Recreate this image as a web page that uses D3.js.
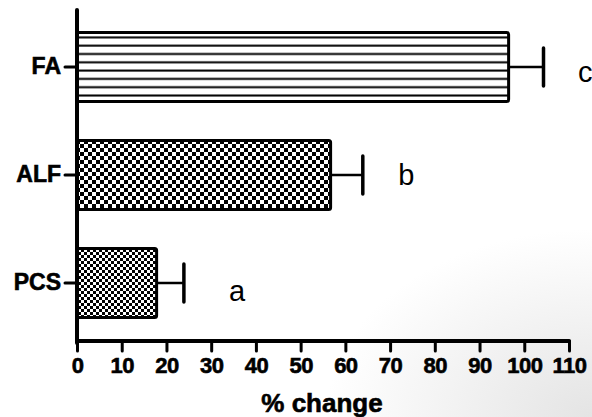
<!DOCTYPE html>
<html>
<head>
<meta charset="utf-8">
<script src="https://cdn.jsdelivr.net/npm/d3@7"></script>
<style>
    body { margin: 0; background: #fff; }
    text { font-family: "Liberation Sans", Arial, sans-serif; }
</style>
</head>
<body>
<svg id="chart"></svg>
<script>
"use strict";

const width = 592;
const height = 417;

// data
const groups = ["FA", "ALF", "PCS"];
const means = [96.5, 56.7, 17.8];
const errors = [7.8, 7.2, 6.1];
const letters = ["c", "b", "a"];
const letter_pos = [112, 71.8, 34];
const x_ticks = [0, 10, 20, 30, 40, 50, 60, 70, 80, 90, 100, 110];

const svg = d3.select("#chart")
    .attr("width", width)
    .attr("height", height);

const x_scale = d3.scaleLinear()
    .domain([0, 110])
    .range([77, 569]);

const y_scale = d3.scaleBand()
    .domain(groups)
    .range([13, 337])
    .paddingInner(1 / 3)
    .paddingOuter(1 / 6);

const defs = svg.append("defs");

// faint grey shading in the bottom right corner
const grad = defs.append("radialGradient")
    .attr("id", "bg")
    .attr("cx", "100%").attr("cy", "100%").attr("r", "45%");
grad.append("stop").attr("offset", "0%").attr("stop-color", "#e4e4e4");
grad.append("stop").attr("offset", "100%").attr("stop-color", "#ffffff");
svg.append("rect")
    .attr("width", width).attr("height", height)
    .attr("fill", "url(#bg)");

// fill patterns
const hlines = defs.append("pattern")
    .attr("id", "pat_FA")
    .attr("patternUnits", "userSpaceOnUse")
    .attr("width", 8).attr("height", 8.3);
hlines.append("rect").attr("width", 8).attr("height", 8.3).attr("fill", "#fff");
hlines.append("rect").attr("y", 3.2).attr("width", 8).attr("height", 2).attr("fill", "#000");

function checker(id, s) {
    const p = defs.append("pattern")
        .attr("id", id)
        .attr("patternUnits", "userSpaceOnUse")
        .attr("width", 2 * s).attr("height", 2 * s);
    p.append("rect").attr("width", 2 * s).attr("height", 2 * s).attr("fill", "#fff");
    p.append("rect").attr("width", s).attr("height", s).attr("fill", "#000");
    p.append("rect").attr("x", s).attr("y", s).attr("width", s).attr("height", s).attr("fill", "#000");
}
checker("pat_ALF", 4);
checker("pat_PCS", 3);

// bars
svg.append("g")
    .selectAll("rect")
    .data(groups)
    .enter()
    .append("rect")
    .attr("x", x_scale(0))
    .attr("y", d => y_scale(d) + 1.5)
    .attr("width", (d, i) => x_scale(means[i]) - x_scale(0))
    .attr("height", y_scale.bandwidth() - 3)
    .attr("rx", 2)
    .attr("fill", d => `url(#pat_${d})`)
    .attr("stroke", "#000")
    .attr("stroke-width", 3);

// error bars
const err = svg.append("g");
groups.forEach((g, i) => {
    const yc = y_scale(g) + y_scale.bandwidth() / 2;
    err.append("line")
        .attr("x1", x_scale(means[i]))
        .attr("x2", x_scale(means[i] + errors[i]))
        .attr("y1", yc).attr("y2", yc)
        .attr("stroke", "#000")
        .attr("stroke-width", 2.5);
    err.append("line")
        .attr("x1", x_scale(means[i] + errors[i]))
        .attr("x2", x_scale(means[i] + errors[i]))
        .attr("y1", yc - 19).attr("y2", yc + 19)
        .attr("stroke", "#000")
        .attr("stroke-width", 3.5)
        .attr("stroke-linecap", "round");
});

// significance letters
const letter_dy = [15, 10, 18];
svg.append("g")
    .selectAll("text")
    .data(letters)
    .enter()
    .append("text")
    .attr("x", (d, i) => x_scale(letter_pos[i]))
    .attr("y", (d, i) => y_scale(groups[i]) + y_scale.bandwidth() / 2 + letter_dy[i])
    .attr("font-size", 29)
    .text(d => d);

// x axis
const axis_x = svg.append("g")
    .attr("transform", "translate(0, 341)")
    .call(
        d3.axisBottom(x_scale)
            .tickValues(x_ticks)
            .tickSize(10)
            .tickPadding(6)
    );
axis_x.select(".domain")
    .attr("d", `M${x_scale(0)},0H${x_scale(110)}`)
    .attr("stroke-width", 4)
    .attr("stroke-linecap", "round");
axis_x.selectAll(".tick line")
    .attr("stroke-width", 3)
    .attr("stroke-linecap", "round");
axis_x.selectAll(".tick text")
    .attr("font-family", "Liberation Sans, Arial, sans-serif")
    .attr("font-size", 22)
    .attr("font-weight", "bold")
    .attr("letter-spacing", -0.5)
    .attr("fill", "#000")
    .attr("stroke", "#000")
    .attr("stroke-width", 0.6);

// y axis
const axis_y = svg.append("g")
    .attr("transform", `translate(${x_scale(0)}, 0)`)
    .call(
        d3.axisLeft(y_scale)
            .tickSize(12)
            .tickPadding(4)
    );
axis_y.select(".domain")
    .attr("d", "M0,10V343")
    .attr("stroke-width", 4)
    .attr("stroke-linecap", "round");
axis_y.selectAll(".tick line")
    .attr("stroke-width", 3)
    .attr("stroke-linecap", "round");
axis_y.selectAll(".tick text")
    .attr("font-family", "Liberation Sans, Arial, sans-serif")
    .attr("font-size", 23)
    .attr("font-weight", "bold")
    .attr("fill", "#000")
    .attr("stroke", "#000")
    .attr("stroke-width", 0.6);

// axis title
svg.append("text")
    .attr("x", 322)
    .attr("y", 412)
    .attr("text-anchor", "middle")
    .attr("font-size", 26)
    .attr("font-weight", "bold")
    .attr("stroke", "#000")
    .attr("stroke-width", 0.6)
    .text("% change");
</script>
</body>
</html>
